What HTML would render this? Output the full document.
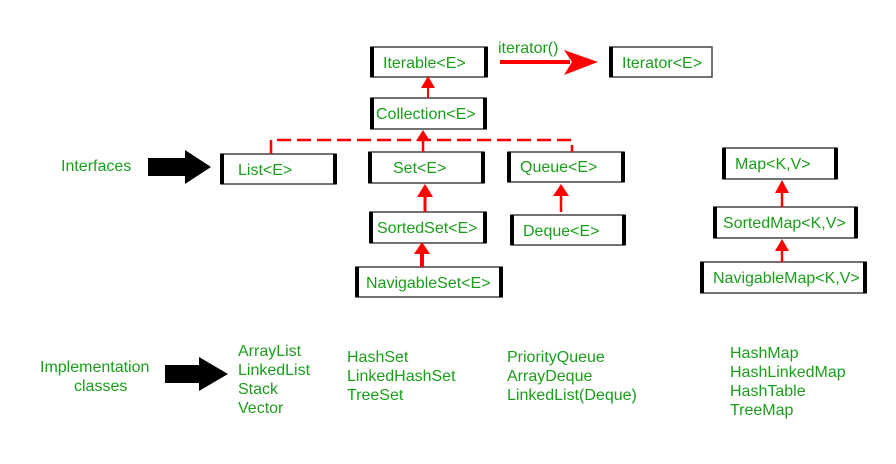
<!DOCTYPE html>
<html><head><meta charset="utf-8"><style>
html,body{margin:0;padding:0;background:#fff;}
svg{display:block;}
text{font-family:"Liberation Sans",sans-serif;font-size:16px;fill:#1a9e1a;}
</style></head><body>
<svg width="896" height="464" viewBox="0 0 896 464" xmlns="http://www.w3.org/2000/svg">
<g stroke="#444" stroke-width="1.5" fill="#fff">
<rect x="371" y="47" width="116" height="30"/>
<rect x="371" y="98" width="115" height="31"/>
<rect x="221" y="154" width="115" height="30"/>
<rect x="369" y="152" width="115" height="31"/>
<rect x="508" y="152" width="116" height="30"/>
<rect x="370" y="212" width="116" height="31"/>
<rect x="511" y="215" width="114" height="30"/>
<rect x="356" y="267" width="146" height="30"/>
<rect x="610" y="47" width="102" height="30"/>
<rect x="723" y="148" width="114" height="31"/>
<rect x="714" y="207" width="143" height="31"/>
<rect x="701" y="262" width="165" height="31"/>
</g>
<g fill="#000">
<rect x="370" y="47" width="4" height="30"/><rect x="484" y="47" width="4" height="30"/>
<rect x="370" y="98" width="4" height="31"/><rect x="483" y="98" width="4" height="31"/>
<rect x="220" y="154" width="4" height="30"/><rect x="333" y="154" width="4" height="30"/>
<rect x="368" y="152" width="4" height="31"/><rect x="481" y="152" width="4" height="31"/>
<rect x="507" y="152" width="4" height="30"/><rect x="621" y="152" width="4" height="30"/>
<rect x="369" y="212" width="4" height="31"/><rect x="483" y="212" width="4" height="31"/>
<rect x="510" y="215" width="4" height="30"/><rect x="622" y="215" width="4" height="30"/>
<rect x="355" y="267" width="4" height="30"/><rect x="499" y="267" width="4" height="30"/>
<rect x="609" y="47" width="4" height="30"/>
<rect x="722" y="148" width="4" height="31"/><rect x="834" y="148" width="4" height="31"/>
<rect x="713" y="207" width="4" height="31"/><rect x="854" y="207" width="4" height="31"/>
<rect x="700" y="262" width="4" height="31"/><rect x="863" y="262" width="4" height="31"/>
</g>
<g>
<text x="383" y="68">Iterable&lt;E&gt;</text>
<text x="376" y="119">Collection&lt;E&gt;</text>
<text x="238" y="175">List&lt;E&gt;</text>
<text x="393" y="173">Set&lt;E&gt;</text>
<text x="520" y="172">Queue&lt;E&gt;</text>
<text x="377" y="233">SortedSet&lt;E&gt;</text>
<text x="523" y="236">Deque&lt;E&gt;</text>
<text x="366" y="288">NavigableSet&lt;E&gt;</text>
<text x="622" y="68">Iterator&lt;E&gt;</text>
<text x="735" y="169">Map&lt;K,V&gt;</text>
<text x="723" y="228">SortedMap&lt;K,V&gt;</text>
<text x="713" y="283">NavigableMap&lt;K,V&gt;</text>
<text x="498" y="53">iterator()</text>
</g>
<g stroke="#f00" fill="none">
<line x1="500" y1="62" x2="570" y2="62" stroke-width="4"/>
<line x1="428" y1="98" x2="428" y2="84" stroke-width="2"/>
<path d="M271 154 V140 H572 V152" stroke-width="2.5" stroke-dasharray="14,6"/>
<line x1="423" y1="152" x2="423" y2="138" stroke-width="2.5"/>
<line x1="425" y1="212" x2="425" y2="196" stroke-width="3"/>
<line x1="422" y1="267" x2="422" y2="252" stroke-width="4"/>
<line x1="561" y1="212" x2="561" y2="195" stroke-width="2.5"/>
<line x1="782" y1="207" x2="782" y2="191" stroke-width="2.5"/>
<line x1="782" y1="262" x2="782" y2="249" stroke-width="2.5"/>
</g>
<g fill="#f00">
<polygon points="564,50 598,62 564,75 572,62"/>
<polygon points="428,76 421,88 435,88"/>
<polygon points="423,130 416,141 430,141"/>
<polygon points="425,184 417,197 433,197"/>
<polygon points="422,242 414,254 430,254"/>
<polygon points="561,184 553,196 569,196"/>
<polygon points="782,180 775,193 789,193"/>
<polygon points="782,239 775,251 789,251"/>
</g>
<polygon points="148,158 185,158 185,150 211,167 185,184 185,176 148,176" fill="#000"/>
<polygon points="165,365 199,365 199,357 228,374 199,391 199,383 165,383" fill="#000"/>
<text x="61" y="171">Interfaces</text>
<text x="40" y="372">Implementation</text>
<text x="74" y="391">classes</text>
<text x="238" y="356">ArrayList</text>
<text x="238" y="375">LinkedList</text>
<text x="238" y="394">Stack</text>
<text x="238" y="413">Vector</text>
<text x="347" y="362">HashSet</text>
<text x="347" y="381">LinkedHashSet</text>
<text x="347" y="400">TreeSet</text>
<text x="507" y="362">PriorityQueue</text>
<text x="507" y="381">ArrayDeque</text>
<text x="507" y="400">LinkedList(Deque)</text>
<text x="730" y="358">HashMap</text>
<text x="730" y="377">HashLinkedMap</text>
<text x="730" y="396">HashTable</text>
<text x="730" y="415">TreeMap</text>
</svg>
</body></html>
